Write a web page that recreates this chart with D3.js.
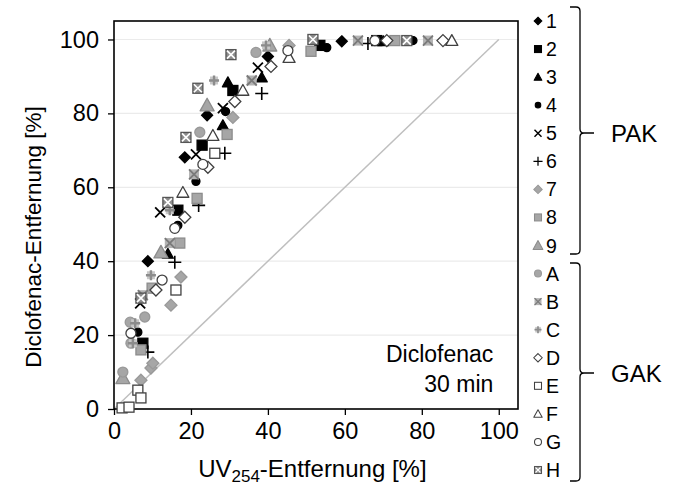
<!DOCTYPE html>
<html><head><meta charset="utf-8">
<script src="https://cdn.jsdelivr.net/npm/d3@7"></script>
<style>
html,body{margin:0;padding:0;background:#fff;}
svg{display:block;font-family:"Liberation Sans",Arial,sans-serif;}
</style></head>
<body>
<svg id="chart" width="675" height="492"></svg>
<script>
// ---------- data ----------
const seriesNames = ["1","2","3","4","5","6","7","8","9","A","B","C","D","E","F","G","H"];
const groupNames = ["PAK","GAK"];
const xTicks = [0,20,40,60,80,100];
const yTicks = [0,20,40,60,80,100];
// UV254 removal [%] per series
const uvRemoval = [
  [8.8,18.4,24.2,40,59.2],
  [7.5,16.6,22.9,30.9,53.5,68.3],
  [14,28.3,29.6,38.4,70],
  [6.2,16.6,21.3,29,55.3,77.7],
  [6.8,12,21.3,28.3,37.4],
  [8.8,15.8,22,28.8,38.4,66],
  [7,9.6,10.1,14.8,17.4,30.9,45.5],
  [7,9.9,17.1,21.6,29.4,51.2,73],
  [2.3,12.2,24.2,40.5],
  [2.3,4.4,4.2,8,22.3,36.9],
  [7.5,14.5,20.8,35.8,63.4,81.6],
  [4.9,5.5,9.6,14.5,26,39.5],
  [10.9,18.4,24.4,31.4,40.8,70.9,85.5],
  [2.1,3.9,6.2,7,16.1,26.2],
  [17.9,25.7,33.5,45.5,87.8],
  [4.4,12.5,15.8,23.1,45.2,67.8],
  [7,14,18.7,21.8,30.4,51.7,76.1]
];
// Diclofenac removal [%] per series
const dicRemoval = [
  [40,68.1,79.5,95.4,99.5],
  [17.8,53.8,71.4,86.2,98.4,99.7],
  [42,76.8,88.4,89.7,99.5],
  [20.8,49.7,61.6,80.5,97.8,99.7],
  [28.6,53.2,68.9,81.4,92.4],
  [15.4,39.7,55.1,69.2,85.4,98.9],
  [7.8,11.1,12.4,28.1,35.7,78.9,98.4],
  [16,32.7,44.9,57,74.3,96.8,99.7],
  [8.4,42.4,82.2,98.4],
  [10,17.8,23.5,24.9,74.9,96.5],
  [30.8,44.9,63.5,88.9,99.7,99.7],
  [17.8,23.2,36.2,53.8,88.9,98.4],
  [32.2,51.9,65.4,83.2,92.7,99.7,99.7],
  [0.3,0.5,5.1,3,32.2,69.2],
  [58.6,74,86.2,95.1,99.7],
  [20.5,34.9,48.9,66.2,97,99.7],
  [30,55.9,73.5,86.8,95.9,100,99.7]
];

// ---------- styles ----------
const markerStyle = {
  "1":{t:"diamond",fill:"#000",stroke:"#000",s:11},
  "2":{t:"square",fill:"#000",stroke:"#000",s:10},
  "3":{t:"triangle",fill:"#000",stroke:"#000",s:11},
  "4":{t:"circle",fill:"#000",stroke:"#000",s:8},
  "5":{t:"x",fill:"none",stroke:"#000",s:10},
  "6":{t:"plus",fill:"none",stroke:"#000",s:13},
  "7":{t:"diamond",fill:"#a6a6a6",stroke:"#999",s:12},
  "8":{t:"square",fill:"#a6a6a6",stroke:"#8c8c8c",s:10},
  "9":{t:"triangle",fill:"#a6a6a6",stroke:"#8c8c8c",s:14},
  "A":{t:"circle",fill:"#a6a6a6",stroke:"#999",s:10},
  "B":{t:"boxx",fill:"#b3b3b3",stroke:"#7a7a7a",s:10},
  "C":{t:"boxplus",fill:"#c8c8c8",stroke:"#8c8c8c",s:10},
  "D":{t:"diamond",fill:"#fff",stroke:"#404040",s:12},
  "E":{t:"square",fill:"#fff",stroke:"#404040",s:10},
  "F":{t:"triangle",fill:"#fff",stroke:"#404040",s:12},
  "G":{t:"circle",fill:"#fff",stroke:"#404040",s:10},
  "H":{t:"boxH",fill:"#8c8c8c",stroke:"#555",s:10}
};

const svg = d3.select("#chart");
const plot = {left:114, right:518, top:21, bottom:409};
const x = d3.scaleLinear().domain([0,105]).range([plot.left, plot.right]);
const y = d3.scaleLinear().domain([0,105]).range([plot.bottom, plot.top]);

// gridlines
svg.append("g").selectAll("line").data(yTicks.filter(d=>d>0)).join("line")
  .attr("x1",plot.left).attr("x2",plot.right)
  .attr("y1",d=>y(d)).attr("y2",d=>y(d))
  .attr("stroke","#ebebeb").attr("stroke-width",1.2);

// diagonal 1:1 line
svg.append("line")
  .attr("x1",x(0)).attr("y1",y(0)).attr("x2",x(100)).attr("y2",y(100))
  .attr("stroke","#bfbfbf").attr("stroke-width",1.5);

// axes
const xAxis = svg.append("g").attr("transform",`translate(0,${plot.bottom})`)
  .call(d3.axisBottom(x).tickValues(xTicks).tickSize(6).tickPadding(7));
const yAxis = svg.append("g").attr("transform",`translate(${plot.left},0)`)
  .call(d3.axisLeft(y).tickValues(yTicks).tickSize(6).tickPadding(9));
[xAxis,yAxis].forEach(a=>{
  a.select(".domain").remove();
  a.selectAll(".tick line").attr("stroke","#000").attr("stroke-width",1.3);
  a.selectAll(".tick text").attr("font-size",23.5).attr("fill","#000")
   .attr("font-family","'Liberation Sans',Arial,sans-serif");
});
// frame
svg.append("rect").attr("x",plot.left).attr("y",plot.top)
  .attr("width",plot.right-plot.left).attr("height",plot.bottom-plot.top)
  .attr("fill","none").attr("stroke","#000").attr("stroke-width",1.6);

// marker drawing
function drawMarker(g, st, scale){
  const s = st.s*scale, h = s/2;
  const sw = 1.3*Math.max(scale,0.8);
  switch(st.t){
    case "diamond":
      g.append("path").attr("d",`M0,${-h}L${h},0L0,${h}L${-h},0Z`)
        .attr("fill",st.fill).attr("stroke",st.stroke).attr("stroke-width",sw); break;
    case "square":
      g.append("rect").attr("x",-h).attr("y",-h).attr("width",s).attr("height",s)
        .attr("fill",st.fill).attr("stroke",st.stroke).attr("stroke-width",sw); break;
    case "triangle":
      g.append("path").attr("d",`M0,${-h}L${h},${h*0.8}L${-h},${h*0.8}Z`)
        .attr("fill",st.fill).attr("stroke",st.stroke).attr("stroke-width",sw).attr("stroke-linejoin","round"); break;
    case "circle":
      g.append("circle").attr("r",h)
        .attr("fill",st.fill).attr("stroke",st.stroke).attr("stroke-width",sw); break;
    case "x":
      g.append("path").attr("d",`M${-h},${-h}L${h},${h}M${-h},${h}L${h},${-h}`)
        .attr("stroke",st.stroke).attr("stroke-width",1.8*Math.max(scale,0.8)); break;
    case "plus":
      g.append("path").attr("d",`M${-h},0L${h},0M0,${-h}L0,${h}`)
        .attr("stroke",st.stroke).attr("stroke-width",1.6*Math.max(scale,0.8)); break;
    case "boxx":
      g.append("rect").attr("x",-h).attr("y",-h).attr("width",s).attr("height",s)
        .attr("fill",st.fill).attr("stroke","none");
      g.append("path").attr("d",`M${-h},${-h}L${h},${h}M${-h},${h}L${h},${-h}`)
        .attr("stroke",st.stroke).attr("stroke-width",1.8*scale); break;
    case "boxplus":
      g.append("rect").attr("x",-h*0.8).attr("y",-h*0.8).attr("width",s*0.8).attr("height",s*0.8)
        .attr("fill",st.fill).attr("stroke","none");
      g.append("path").attr("d",`M${-h},0L${h},0M0,${-h}L0,${h}`)
        .attr("stroke",st.stroke).attr("stroke-width",2.4*scale); break;
    case "boxH":
      g.append("rect").attr("x",-h).attr("y",-h).attr("width",s).attr("height",s)
        .attr("fill",st.fill).attr("stroke",st.stroke).attr("stroke-width",sw);
      g.append("path").attr("d",`M${-h+1},${-h+1}L${h-1},${h-1}M${-h+1},${h-1}L${h-1},${-h+1}`)
        .attr("stroke","#fff").attr("stroke-width",1.6*scale); break;
  }
}

// points
const pts = svg.append("g");
seriesNames.forEach((name,i)=>{
  const st = markerStyle[name];
  uvRemoval[i].forEach((xv,j)=>{
    const g = pts.append("g").attr("transform",`translate(${x(xv)},${y(dicRemoval[i][j])})`);
    drawMarker(g, st, 1);
  });
});

// annotation
svg.append("text").attr("x",x(98.6)).attr("y",362).attr("text-anchor","end")
  .attr("font-size",23).text("Diclofenac");
svg.append("text").attr("x",x(98.6)).attr("y",392).attr("text-anchor","end")
  .attr("font-size",23).text("30 min");

// axis titles
const xt = svg.append("text").attr("x",(plot.left+x(100))/2+6).attr("y",477)
  .attr("text-anchor","middle").attr("font-size",24);
xt.append("tspan").text("UV");
xt.append("tspan").attr("font-size",17).attr("dy",5).text("254");
xt.append("tspan").attr("dy",-5).text("-Entfernung [%]");
svg.append("text").attr("transform",`translate(41,${(plot.top+plot.bottom)/2+22}) rotate(-90)`)
  .attr("text-anchor","middle").attr("font-size",22.5).text("Diclofenac-Entfernung [%]");

// legend
const legY = d3.scalePoint().domain(seriesNames).range([21,470]);
const leg = svg.append("g");
seriesNames.forEach(name=>{
  const g = leg.append("g").attr("transform",`translate(538,${legY(name)})`);
  drawMarker(g, markerStyle[name], 0.7);
  g.append("text").attr("x",8).attr("y",7).attr("font-size",19.5).text(name);
});

// braces
function brace(top,bottom,mid){
  const xv=580, xl=570, r=4;
  return `M${xl},${top}L${xv-r},${top}Q${xv},${top} ${xv},${top+r}`+
    `L${xv},${mid-r}Q${xv},${mid} ${xv+r},${mid}L${xv+14},${mid}`+
    `M${xv+r},${mid}Q${xv},${mid} ${xv},${mid+r}`+
    `L${xv},${bottom-r}Q${xv},${bottom} ${xv-r},${bottom}L${xl},${bottom}`;
}
const braceDefs = [{top:7,bottom:254,mid:133},{top:263,bottom:481,mid:373}];
braceDefs.forEach((b,i)=>{
  svg.append("path").attr("d",brace(b.top,b.bottom,b.mid))
    .attr("fill","none").attr("stroke","#000").attr("stroke-width",1.3);
  svg.append("text").attr("x",611).attr("y",b.mid+8.5).attr("font-size",24).text(groupNames[i]);
});
</script>
</body></html>
